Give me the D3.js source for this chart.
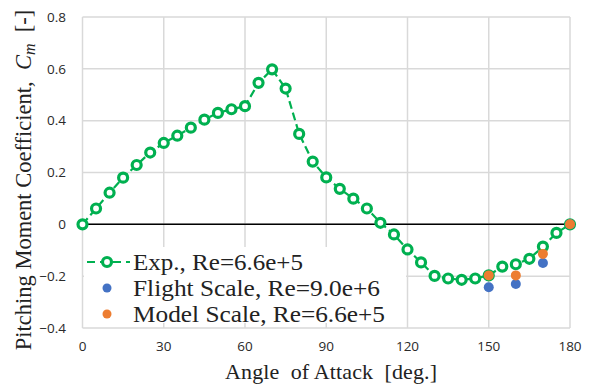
<!DOCTYPE html>
<html>
<head>
<meta charset="utf-8">
<script src="https://cdn.jsdelivr.net/npm/d3@7"></script>
<style>
  body { margin: 0; background: #fff; }
  svg { display: block; }
</style>
</head>
<body>
<script>
// data
var expAngles = [0, 5, 10, 15, 20, 25, 30, 35, 40, 45, 50, 55, 60, 65, 70, 75, 80, 85, 90,
  95, 100, 105, 110, 115, 120, 125, 130, 135, 140, 145, 150, 155, 160, 165, 170, 175, 180];
var expCm = [0, 0.061, 0.122, 0.180, 0.229, 0.277, 0.314, 0.342, 0.373, 0.404, 0.430, 0.444, 0.456,
  0.546, 0.598, 0.524, 0.349, 0.242, 0.181, 0.137, 0.099, 0.061, 0.006, -0.039, -0.097, -0.147,
  -0.199, -0.209, -0.214, -0.209, -0.197, -0.163, -0.154, -0.133, -0.086, -0.033, 0];
var flightAngles = [150, 160, 170, 180];
var flightCm = [-0.243, -0.230, -0.149, 0];
var modelAngles = [150, 160, 170, 180];
var modelCm = [-0.197, -0.197, -0.114, 0];
var xTicks = [0, 30, 60, 90, 120, 150, 180];
var yTicks = [-0.4, -0.2, 0, 0.2, 0.4, 0.6, 0.8];
var legendLabels = ['Exp., Re=6.6e+5', 'Flight Scale, Re=9.0e+6', 'Model Scale, Re=6.6e+5'];
var legendWidths = [170, 247, 252];

var width = 594, height = 386;
var green = '#00b050', blue = '#4472c4', orange = '#ed7d31';
var serif = '"Liberation Serif", "DejaVu Serif", serif';
var sans = '"Open Sans", "Liberation Sans", sans-serif';

var svg = d3.select('body').append('svg')
  .attr('width', width)
  .attr('height', height);

var x = d3.scaleLinear().domain([0, 180]).range([82.5, 570]);
var y = d3.scaleLinear().domain([-0.4, 0.8]).range([328, 17]);

// grid
svg.append('g').selectAll('line.v').data(xTicks).enter().append('line')
  .attr('x1', d => x(d)).attr('x2', d => x(d))
  .attr('y1', y(0.8)).attr('y2', y(-0.4))
  .attr('stroke', '#d9d9d9').attr('stroke-width', 1.5);
svg.append('g').selectAll('line.h').data(yTicks).enter().append('line')
  .attr('x1', x(0)).attr('x2', x(180))
  .attr('y1', d => y(d)).attr('y2', d => y(d))
  .attr('stroke', '#d9d9d9').attr('stroke-width', 1.5);

// legend background covers the grid
svg.append('rect')
  .attr('x', 84).attr('y', 247).attr('width', 322).attr('height', 76)
  .attr('fill', '#fff');

// zero line
svg.append('line')
  .attr('x1', x(0)).attr('x2', x(180))
  .attr('y1', y(0)).attr('y2', y(0))
  .attr('stroke', '#000').attr('stroke-width', 1.5);

// tick labels
svg.append('g').selectAll('text').data(yTicks).enter().append('text')
  .attr('x', 66).attr('y', d => y(d)).attr('dy', '0.35em')
  .attr('text-anchor', 'end')
  .style('font-family', sans).style('font-size', '13.5px').style('fill', '#2a2a2a')
  .text(d => d === 0 ? '0' : d3.format('.1f')(d));
svg.append('g').selectAll('text').data(xTicks).enter().append('text')
  .attr('x', d => x(d)).attr('y', 346).attr('dy', '0.35em')
  .attr('text-anchor', 'middle')
  .style('font-family', sans).style('font-size', '13.5px').style('fill', '#2a2a2a')
  .text(d => d);

// axis titles
svg.append('text')
  .attr('x', 331).attr('y', 379)
  .attr('text-anchor', 'middle')
  .attr('xml:space', 'preserve')
  .attr('textLength', 212).attr('lengthAdjust', 'spacing')
  .style('font-family', serif).style('font-size', '22px').style('fill', '#222')
  .text('Angle  of Attack  [deg.]');

var yt = svg.append('text')
  .attr('transform', 'translate(31,180) rotate(-90)')
  .attr('text-anchor', 'middle')
  .attr('xml:space', 'preserve')
  .style('font-family', serif).style('font-size', '22.5px').style('fill', '#222');
yt.append('tspan').text('Pitching Moment Coefficient,  ');
yt.append('tspan').style('font-style', 'italic').text('C');
yt.append('tspan').style('font-style', 'italic').style('font-size', '16px').attr('dy', 4).text('m');
yt.append('tspan').attr('dy', -4).text('  [-]');

// experiment series
var pts = expAngles.map((a, i) => [a, expCm[i]]);
var line = d3.line().x(d => x(d[0])).y(d => y(d[1]));
svg.append('path')
  .datum(pts)
  .attr('d', line)
  .attr('fill', 'none')
  .attr('stroke', green).attr('stroke-width', 2.2)
  .attr('stroke-dasharray', '8,4');
svg.append('g').selectAll('circle').data(pts).enter().append('circle')
  .attr('cx', d => x(d[0])).attr('cy', d => y(d[1]))
  .attr('r', 4.5)
  .attr('fill', '#fff').attr('stroke', green).attr('stroke-width', 3.2);

// CFD points
svg.append('g').selectAll('circle').data(flightAngles).enter().append('circle')
  .attr('cx', d => x(d)).attr('cy', (d, i) => y(flightCm[i]))
  .attr('r', 5).attr('fill', blue);
svg.append('g').selectAll('circle').data(modelAngles).enter().append('circle')
  .attr('cx', d => x(d)).attr('cy', (d, i) => y(modelCm[i]))
  .attr('r', 5).attr('fill', orange);

// legend
var lg = svg.append('g');
var rows = [262, 288, 314];
lg.append('line')
  .attr('x1', 87).attr('x2', 130).attr('y1', rows[0]).attr('y2', rows[0])
  .attr('stroke', green).attr('stroke-width', 2.2).attr('stroke-dasharray', '8,5');
lg.append('circle')
  .attr('cx', 107).attr('cy', rows[0]).attr('r', 4.5)
  .attr('fill', '#fff').attr('stroke', green).attr('stroke-width', 3.2);
lg.append('circle').attr('cx', 107).attr('cy', rows[1]).attr('r', 4.5).attr('fill', blue);
lg.append('circle').attr('cx', 107).attr('cy', rows[2]).attr('r', 4.5).attr('fill', orange);
lg.selectAll('text').data(legendLabels).enter().append('text')
  .attr('x', 133).attr('y', (d, i) => rows[i]).attr('dy', '0.35em')
  .attr('textLength', (d, i) => legendWidths[i]).attr('lengthAdjust', 'spacingAndGlyphs')
  .style('font-family', serif).style('font-size', '23px').style('fill', '#222')
  .text(d => d);
</script>
</body>
</html>
